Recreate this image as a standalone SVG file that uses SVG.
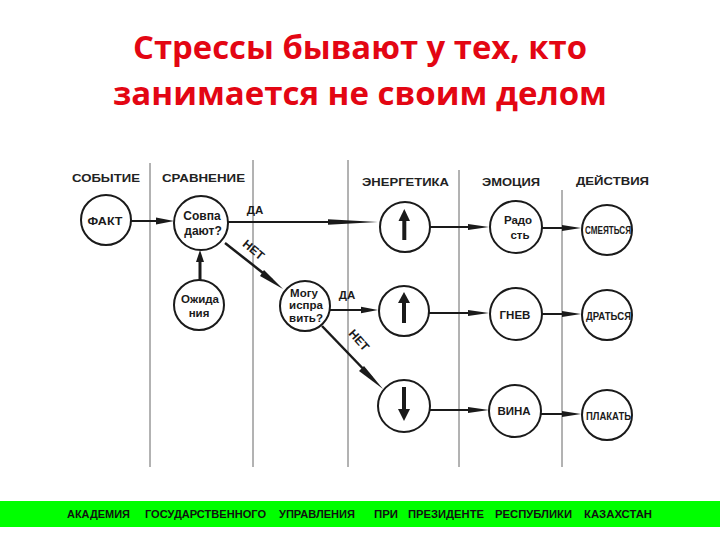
<svg xmlns="http://www.w3.org/2000/svg" width="720" height="540" viewBox="0 0 720 540">
<style>
.title{font-family:"Open Sans","Liberation Sans",sans-serif;font-weight:bold;font-size:33px;fill:#e30613;text-anchor:middle}
.hdr{font-family:"Liberation Sans",Arial,sans-serif;font-weight:bold;font-size:11.5px;fill:#222}
.lbl{font-family:"Liberation Sans",Arial,sans-serif;font-weight:bold;font-size:11.5px;fill:#1a1a1a;text-anchor:middle}
.nt{font-family:"Liberation Sans",Arial,sans-serif;font-size:11.5px;fill:#1a1a1a;text-anchor:middle;font-weight:bold}
.cond{font-family:"Liberation Sans",Arial,sans-serif;font-weight:bold;font-size:10.5px;fill:#1a1a1a}
.node{fill:#fff;stroke:#1a1a1a;stroke-width:2}
.sep{stroke:#666;stroke-width:1}
.edge{stroke:#1a1a1a;stroke-width:2;fill:none}
.head{fill:#1a1a1a}
.foot{font-family:"Liberation Sans",Arial,sans-serif;font-weight:bold;font-size:10px;fill:#111}
</style>
<rect width="720" height="540" fill="#fff"/>
<text class="title" x="360" y="59" textLength="454" lengthAdjust="spacingAndGlyphs">Стрессы бывают у тех, кто</text>
<text class="title" x="360" y="105" textLength="494" lengthAdjust="spacingAndGlyphs">занимается не своим делом</text>

<g id="separators">
<line class="sep" x1="150" y1="163" x2="150" y2="467"/>
<line class="sep" x1="253" y1="160" x2="253" y2="467"/>
<line class="sep" x1="348" y1="160" x2="348" y2="467"/>
<line class="sep" x1="459" y1="170" x2="459" y2="467"/>
<line class="sep" x1="562" y1="190" x2="562" y2="467"/>
</g>

<g id="headers">
<text class="hdr" x="72" y="182" textLength="68" lengthAdjust="spacingAndGlyphs">СОБЫТИЕ</text>
<text class="hdr" x="162" y="182" textLength="83" lengthAdjust="spacingAndGlyphs">СРАВНЕНИЕ</text>
<text class="hdr" x="362" y="186" textLength="87" lengthAdjust="spacingAndGlyphs">ЭНЕРГЕТИКА</text>
<text class="hdr" x="482" y="186" textLength="58" lengthAdjust="spacingAndGlyphs">ЭМОЦИЯ</text>
<text class="hdr" x="576" y="185" textLength="73" lengthAdjust="spacingAndGlyphs">ДЕЙСТВИЯ</text>
</g>

<g id="connectors">
<line class="edge" x1="131" y1="221" x2="160" y2="221"/>
<polygon class="head" points="156,217.5 174,221 156,224.5"/>
<line class="edge" x1="200" y1="280" x2="200" y2="260" style="stroke-width:3"/>
<polygon class="head" points="196,262 200,250 204,262"/>
<line class="edge" x1="228" y1="222" x2="340" y2="222"/>
<polygon class="head" points="328,219.3 378,222 328,224.7"/>
<text class="nt" x="255" y="214">ДА</text>
<line class="edge" x1="225" y1="243" x2="272" y2="280" style="stroke-width:2.5"/>
<polygon class="head" points="264,270 283,289 260,276"/>
<text class="nt" transform="translate(251,253) rotate(40)" style="font-size:12px">НЕТ</text>
<line class="edge" x1="330" y1="310" x2="365" y2="310"/>
<polygon class="head" points="361,306.8 378,310 361,313.2"/>
<text class="nt" x="347" y="299">ДА</text>
<line class="edge" x1="322" y1="326" x2="372" y2="378" style="stroke-width:2.5"/>
<polygon class="head" points="364,366 383,389 359,371"/>
<text class="nt" transform="translate(356,343) rotate(48)" style="font-size:12px">НЕТ</text>
<line class="edge" x1="430" y1="227" x2="475" y2="227"/>
<polygon class="head" points="468,224 489,227 468,230"/>
<line class="edge" x1="429" y1="313" x2="475" y2="313"/>
<polygon class="head" points="468,310 489,313 468,316"/>
<line class="edge" x1="430" y1="410" x2="475" y2="410"/>
<polygon class="head" points="468,407 489,410 468,413"/>
<line class="edge" x1="542" y1="228" x2="568" y2="228"/>
<polygon class="head" points="562,225 581,228 562,231"/>
<line class="edge" x1="542" y1="314" x2="568" y2="314"/>
<polygon class="head" points="562,311 581,314 562,317"/>
<line class="edge" x1="541" y1="414" x2="568" y2="414"/>
<polygon class="head" points="562,411 581,414 562,417"/>
</g>

<g id="fakt">
<circle class="node" cx="106" cy="220" r="25"/>
<text class="lbl" x="105" y="225" textLength="35" lengthAdjust="spacingAndGlyphs">ФАКТ</text>
</g>
<g id="sovpadayut">
<circle class="node" cx="201" cy="223" r="27"/>
<text class="nt" x="202" y="220" style="font-size:12px">Совпа</text>
<text class="nt" x="203" y="235" style="font-size:12px">дают?</text>
</g>
<g id="ozhidaniya">
<circle class="node" cx="199" cy="305" r="25"/>
<text class="nt" x="200" y="303">Ожида</text>
<text class="nt" x="199" y="317">ния</text>
</g>
<g id="mogu">
<circle class="node" cx="305" cy="306" r="25"/>
<text class="nt" x="304" y="297">Могу</text>
<text class="nt" x="306" y="309">испра</text>
<text class="nt" x="306" y="322">вить?</text>
</g>
<g id="energy-up-1">
<circle class="node" cx="405" cy="227" r="25"/>
<rect x="402.3" y="218" width="4" height="22" fill="#1a1a1a"/>
<polygon class="head" points="398.5,221 404.3,209 410,221"/>
</g>
<g id="energy-up-2">
<circle class="node" cx="404" cy="311" r="25"/>
<rect x="402" y="300" width="4" height="23" fill="#1a1a1a"/>
<polygon class="head" points="398,303 404,292 410,303"/>
</g>
<g id="energy-down">
<circle class="node" cx="404" cy="406" r="26"/>
<rect x="402" y="387" width="4" height="24" fill="#1a1a1a"/>
<polygon class="head" points="398,409 404,421 410,409"/>
</g>
<g id="radost">
<circle class="node" cx="516" cy="227" r="26"/>
<text class="nt" x="518" y="224">Радо</text>
<text class="nt" x="520" y="239">сть</text>
</g>
<g id="gnev">
<circle class="node" cx="516" cy="314" r="26"/>
<text class="lbl" x="515" y="319">ГНЕВ</text>
</g>
<g id="vina">
<circle class="node" cx="515" cy="411" r="26"/>
<text class="lbl" x="514" y="415">ВИНА</text>
</g>
<g id="smeyatsya">
<circle class="node" cx="607" cy="230" r="25"/>
<text class="cond" x="585" y="234" textLength="46" lengthAdjust="spacingAndGlyphs">СМЕЯТЬСЯ</text>
</g>
<g id="dratsya">
<circle class="node" cx="607" cy="315" r="25"/>
<text class="cond" x="586" y="320" textLength="45" lengthAdjust="spacingAndGlyphs">ДРАТЬСЯ</text>
</g>
<g id="plakat">
<circle class="node" cx="607" cy="415" r="25"/>
<text class="cond" x="586" y="420" textLength="45" lengthAdjust="spacingAndGlyphs">ПЛАКАТЬ</text>
</g>

<g id="footer">
<rect x="0" y="501" width="720" height="26" fill="#00ff00"/>
<text class="foot" x="67" y="518" textLength="63" lengthAdjust="spacingAndGlyphs">АКАДЕМИЯ</text>
<text class="foot" x="145" y="518" textLength="121" lengthAdjust="spacingAndGlyphs">ГОСУДАРСТВЕННОГО</text>
<text class="foot" x="279" y="518" textLength="76" lengthAdjust="spacingAndGlyphs">УПРАВЛЕНИЯ</text>
<text class="foot" x="374" y="518" textLength="24" lengthAdjust="spacingAndGlyphs">ПРИ</text>
<text class="foot" x="408" y="518" textLength="76" lengthAdjust="spacingAndGlyphs">ПРЕЗИДЕНТЕ</text>
<text class="foot" x="495" y="518" textLength="77" lengthAdjust="spacingAndGlyphs">РЕСПУБЛИКИ</text>
<text class="foot" x="584" y="518" textLength="68" lengthAdjust="spacingAndGlyphs">КАЗАХСТАН</text>
</g>
</svg>
